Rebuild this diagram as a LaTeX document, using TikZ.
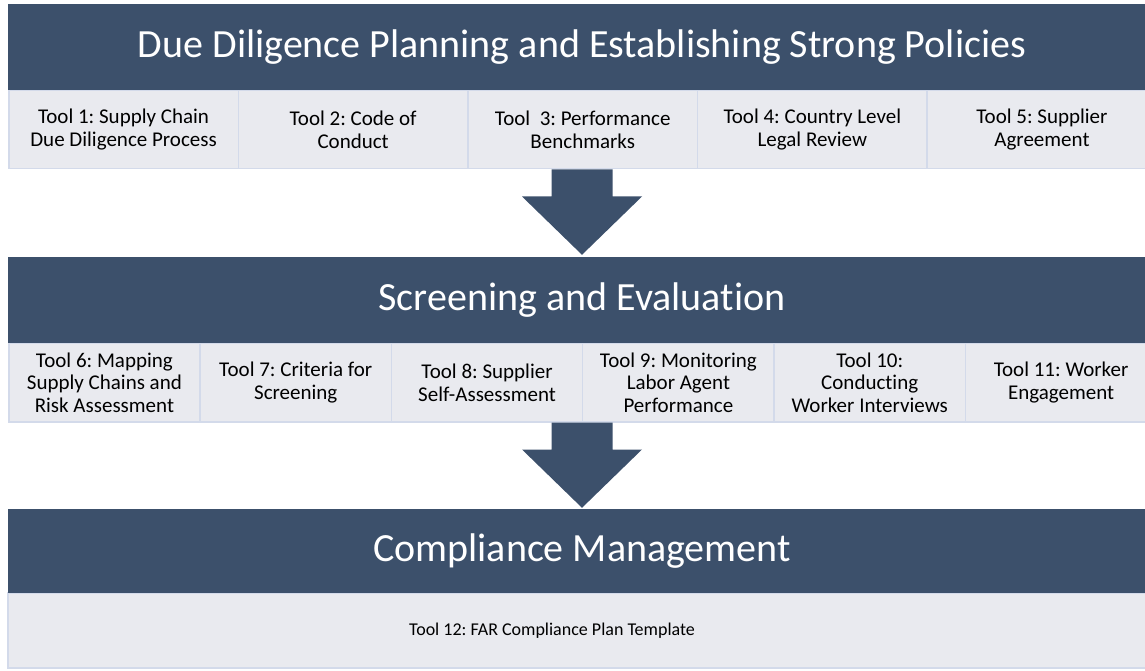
\documentclass[tikz,border=0pt]{standalone}
\usepackage{fontspec}
\setmainfont{Carlito}[Ligatures={NoCommon}]
\frenchspacing
\usetikzlibrary{calc}

\definecolor{hdrblue}{HTML}{3C506B}
\definecolor{toolfill}{HTML}{E9EAEF}
\definecolor{toolline}{HTML}{D3DAEA}

% block arrow from a row of tools down to the next header
\newcommand{\blockarrow}[2]{%
  \fill[hdrblue] ($(#1)+(-30.5,0)$) -- ($(#1)+(-30.5,-27)$) -- ($(#1)+(-60,-27)$)
    -- (#2) -- ($(#1)+(60,-27)$) -- ($(#1)+(30.5,-27)$) -- ($(#1)+(30.5,0)$) -- cycle;}

\begin{document}
\begin{tikzpicture}[x=1pt,y=1pt,
    header/.style={fill=hdrblue, text=white, minimum width=1148pt, minimum height=86pt,
      inner sep=0pt, font=\fontsize{40}{48}\selectfont},
    tool/.style={fill=toolfill, draw=toolline, line width=1.5pt, minimum height=78pt,
      inner sep=0pt, align=center, font=\fontsize{21}{22.5}\selectfont}]
  \useasboundingbox (0,0) rectangle (1145,670);

  % planning stage
  \foreach \i/\txt in {1/{Tool 1: Supply Chain\\Due Diligence Process},
                       2/{Tool 2: Code of\\Conduct},
                       3/{Tool~~3: Performance\\Benchmarks},
                       4/{Tool 4: Country Level\\Legal Review},
                       5/{Tool 5: Supplier\\Agreement}}
    \node[tool, minimum width=229.6pt, anchor=north west] (t\i) at ({8+(\i-1)*229.6},580) {\txt};
  \node[header] (plan) at (582,623) {Due Diligence Planning and Establishing Strong Policies};

  % screening stage
  \foreach \i/\txt in {6/{Tool 6: Mapping\\Supply Chains and\\Risk Assessment},
                       7/{Tool 7: Criteria for\\Screening},
                       8/{Tool 8: Supplier\\Self-Assessment},
                       9/{Tool 9: Monitoring\\Labor Agent\\Performance},
                       10/{Tool 10:\\Conducting\\Worker Interviews},
                       11/{Tool 11: Worker\\Engagement}}
    \node[tool, minimum width=191.33pt, anchor=north west] (t\i) at ({8+(\i-6)*191.33},327) {\txt};
  \node[header] (screen) at (582,370) {Screening and Evaluation};

  % compliance stage
  \node[tool, minimum width=1148pt, minimum height=75pt] (t12) at (582,39.5) {};
  \node[font=\fontsize{18}{22}\selectfont] (t12txt) at ($(t12.center)+(-30,0)$) {Tool 12: FAR Compliance Plan Template};
  \node[header, minimum height=84pt] (comply) at (582,119) {Compliance Management};

  % arrows between stages
  \coordinate (a1) at (plan.south |- t3.south);
  \coordinate (a1tip) at ($(screen.north)+(0,2)$);
  \blockarrow{a1}{a1tip}
  \coordinate (a2) at (screen.south |- t8.south);
  \coordinate (a2tip) at ($(comply.north)+(0,1)$);
  \blockarrow{a2}{a2tip}
\end{tikzpicture}
\end{document}
